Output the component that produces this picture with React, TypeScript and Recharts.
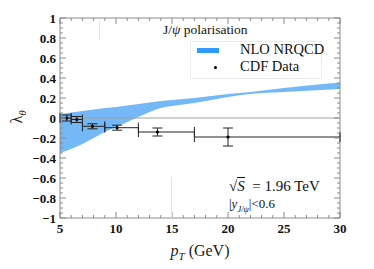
import React from 'react';
import {
  ComposedChart,
  Area,
  Scatter,
  ErrorBar,
  XAxis,
  YAxis,
  ReferenceLine,
  ReferenceArea,
} from 'recharts';

// NLO NRQCD band (lower, upper) vs pT
const bandPt = [5, 6, 7, 8, 9, 10, 11, 12, 13, 14, 15, 17, 20, 22, 25, 30];
const bandLow = [-0.35, -0.31, -0.26, -0.2, -0.14, -0.09, -0.04, 0.01, 0.06, 0.1, 0.12, 0.15, 0.21, 0.24, 0.26, 0.29];
const bandHigh = [0.04, 0.055, 0.07, 0.085, 0.1, 0.11, 0.125, 0.14, 0.155, 0.17, 0.18, 0.2, 0.24, 0.26, 0.3, 0.355];

// CDF data
const cdfPt = [5.6, 6.5, 7.9, 10.1, 13.7, 20];
const cdfLambda = [0.0, -0.015, -0.083, -0.097, -0.14, -0.19];
const cdfBinLo = [5, 6, 7, 9, 12, 17];
const cdfBinHi = [6, 7, 9, 12, 17, 30];
const cdfErr = [0.03, 0.03, 0.025, 0.025, 0.04, 0.09];

const xMajor = [5, 10, 15, 20, 25, 30];
const yMajor = [-1, -0.8, -0.6, -0.4, -0.2, 0, 0.2, 0.4, 0.6, 0.8, 1];

const xTicks = Array.from({ length: 26 }, (_, i) => 5 + i);
const yTicks = Array.from({ length: 41 }, (_, i) => Math.round((-1 + i * 0.05) * 100) / 100);

const bandData = bandPt.map((x, i) => ({ x, band: [bandLow[i], bandHigh[i]] }));
const cdfData = cdfPt.map((x, i) => ({
  x,
  y: cdfLambda[i],
  xErr: [x - cdfBinLo[i], cdfBinHi[i] - x],
  yErr: cdfErr[i],
}));

const W = 374;
const H = 269;
const M = { top: 18, right: 34, bottom: 21, left: 10 };
const Y_W = 50;
const X_H = 30;
const PL = M.left + Y_W;
const PR = W - M.right;
const PT = M.top;
const PB = H - M.bottom - X_H;

const FRAME = '#8a8a8a';
const SERIF = 'Liberation Serif';

const fmt = (v: number) => {
  const s = Math.abs(v) < 1e-9 ? '0' : String(Math.abs(v));
  return v < -1e-9 ? '\u2212' + s : s;
};

const isMajor = (list: number[], v: number) => list.some((m) => Math.abs(m - v) < 1e-6);

const XTick = (props: any) => {
  const { x, payload } = props;
  const v = payload.value;
  const major = isMajor(xMajor, v);
  const len = major ? 6 : 3;
  return (
    <g>
      <line x1={x} x2={x} y1={PB} y2={PB - len} stroke={FRAME} />
      <line x1={x} x2={x} y1={PT} y2={PT + len} stroke={FRAME} />
      {major && (
        <text x={x} y={PB + 15} textAnchor="middle" fontFamily={SERIF} fontWeight={700} fontSize={13} fill="#111">
          {fmt(v)}
        </text>
      )}
    </g>
  );
};

const YTick = (props: any) => {
  const { y, payload } = props;
  const v = payload.value;
  const major = isMajor(yMajor, v);
  const len = major ? 6 : 3;
  return (
    <g>
      <line x1={PL} x2={PL + len} y1={y} y2={y} stroke={FRAME} />
      <line x1={PR} x2={PR - len} y1={y} y2={y} stroke={FRAME} />
      {major && (
        <text x={PL - 4} y={y + 4.5} textAnchor="end" fontFamily={SERIF} fontWeight={700} fontSize={13} fill="#111">
          {fmt(v)}
        </text>
      )}
    </g>
  );
};

const Dot = (props: any) => <circle cx={props.cx} cy={props.cy} r={1.6} fill="#000" />;

export default function App() {
  return (
    <div style={{ position: 'absolute', left: 0, top: 0, width: W, height: H, background: '#fff', fontFamily: SERIF }}>
      <ComposedChart width={W} height={H} margin={M}>
        <XAxis
          dataKey="x"
          type="number"
          domain={[5, 30]}
          ticks={xTicks}
          interval={0}
          allowDataOverflow
          tick={<XTick />}
          tickLine={false}
          axisLine={false}
          height={X_H}
        />
        <YAxis
          type="number"
          domain={[-1, 1]}
          ticks={yTicks}
          interval={0}
          allowDataOverflow
          tick={<YTick />}
          tickLine={false}
          axisLine={false}
          width={Y_W}
        />
        <Area
          data={bandData}
          dataKey="band"
          type="monotone"
          stroke="none"
          fill="#75b8f7"
          fillOpacity={1}
          isAnimationActive={false}
        />
        <ReferenceLine y={0} stroke="#a0a0a0" strokeWidth={1} />
        <ReferenceArea x1={5} x2={30} y1={-1} y2={1} fill="none" stroke={FRAME} strokeWidth={1} ifOverflow="visible" />
        <Scatter data={cdfData} dataKey="y" shape={<Dot />} isAnimationActive={false}>
          <ErrorBar dataKey="xErr" direction="x" width={5} stroke="#222" strokeWidth={1} />
          <ErrorBar dataKey="yErr" direction="y" width={5} stroke="#222" strokeWidth={1} />
        </Scatter>
      </ComposedChart>

      {/* faint inset edges */}
      <div style={{ position: 'absolute', left: 99, top: 21, width: 1, height: 19, background: '#e6e6e6' }} />
      <div style={{ position: 'absolute', left: 171, top: 177, width: 1, height: 41, background: '#e6e6e6' }} />

      {/* y label */}
      <div
        style={{
          position: 'absolute',
          left: 18,
          top: 117,
          transform: 'translate(-50%, -50%) rotate(-90deg)',
          fontSize: 16,
          whiteSpace: 'nowrap',
          color: '#222',
        }}
      >
        λ<sub style={{ fontSize: 11, fontStyle: 'italic' }}>θ</sub>
      </div>

      {/* x label */}
      <div style={{ position: 'absolute', left: 200, top: 252, transform: 'translate(-50%, -50%)', fontSize: 16, whiteSpace: 'nowrap', color: '#222' }}>
        <i>p</i>
        <sub style={{ fontSize: 11, fontStyle: 'italic' }}>T</sub> (GeV)
      </div>

      {/* title */}
      <div style={{ position: 'absolute', left: 163, top: 22, fontSize: 13.5, whiteSpace: 'nowrap', color: '#111' }}>
        J/<i>ψ</i> polarisation
      </div>

      {/* legend */}
      <div
        style={{
          position: 'absolute',
          left: 190,
          top: 41,
          width: 130,
          height: 36,
          border: '1px solid #ececec',
          background: '#fff',
        }}
      />
      <div style={{ position: 'absolute', left: 197, top: 48, width: 22, height: 5, background: '#2e9aff' }} />
      <div style={{ position: 'absolute', left: 240, top: 41, fontSize: 14.5, whiteSpace: 'nowrap', color: '#111' }}>NLO NRQCD</div>
      <div style={{ position: 'absolute', left: 214, top: 66, width: 3, height: 3, borderRadius: 2, background: '#000' }} />
      <div style={{ position: 'absolute', left: 240, top: 58, fontSize: 14.5, whiteSpace: 'nowrap', color: '#111' }}>CDF Data</div>

      {/* annotation */}
      <div style={{ position: 'absolute', left: 229, top: 178, fontSize: 15, whiteSpace: 'nowrap', color: '#111' }}>
        √<span style={{ fontStyle: 'italic', borderTop: '1px solid #111' }}>S</span>&nbsp; = 1.96 TeV
      </div>
      <div style={{ position: 'absolute', left: 229, top: 196, fontSize: 13, whiteSpace: 'nowrap', color: '#111' }}>
        |<i>y</i>
        <sub style={{ fontSize: 8.5, fontStyle: 'italic' }}>J/ψ</sub>|&lt;0.6
      </div>
    </div>
  );
}
